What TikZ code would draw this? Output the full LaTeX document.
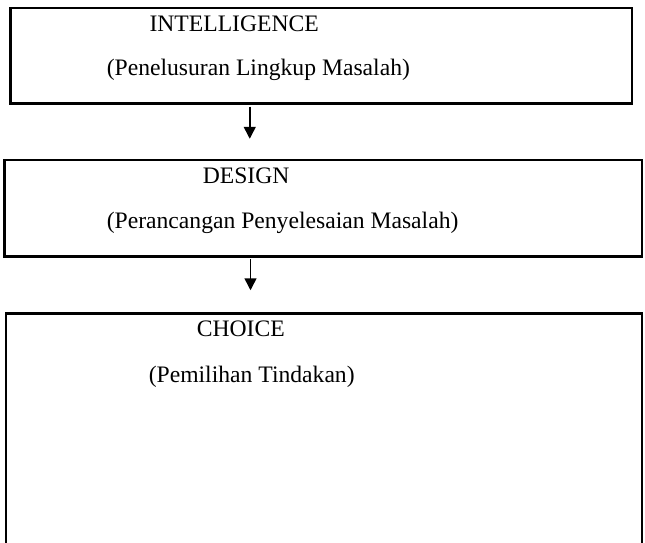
\documentclass[tikz,border=0pt]{standalone}
\usepackage{fontspec}
\setmainfont{Liberation Serif}
\usepackage{tikz}
\usetikzlibrary{arrows.meta,positioning}

\begin{document}
\begin{tikzpicture}[x=0.5pt,y=-0.5pt,
  box/.style={draw, line width=1.5pt, rectangle, inner sep=0pt},
  lbl/.style={inner sep=0pt, anchor=base west, font=\fontsize{15.75}{19}\selectfont},
  flow/.style={-{Triangle[width=8pt,length=8pt]}, line width=1pt}]
  \useasboundingbox (0,0) rectangle (860,723);
  % kotak tahap
  \node[box, minimum width=414.5pt, minimum height=63.5pt] (intel) at (428.5,74.5) {};
  \node[box, minimum width=425pt, minimum height=64.5pt] (design) at (431,277.5) {};
  \node[box, minimum width=424pt, minimum height=161pt] (choice) at (432,579) {};
  % teks
  \node[lbl] (intelT) at (199,42) {INTELLIGENCE};
  \node[lbl] (intelS) at (142,100) {(Penelusuran Lingkup Masalah)};
  \node[lbl] (designT) at (270,245) {DESIGN};
  \node[lbl] (designS) at (142,305) {(Perancangan Penyelesaian Masalah)};
  \node[lbl] (choiceT) at (262,449) {CHOICE};
  \node[lbl] (choiceS) at (198,510) {(Pemilihan Tindakan)};
  % panah
  \coordinate (a1s) at (333,142);
  \coordinate (a1e) at (333,185);
  \coordinate (a2s) at (334,345);
  \coordinate (a2e) at (334,387);
  \draw[flow] (a1s) -- (a1e);
  \draw[flow] (a2s) -- (a2e);
\end{tikzpicture}
\end{document}
